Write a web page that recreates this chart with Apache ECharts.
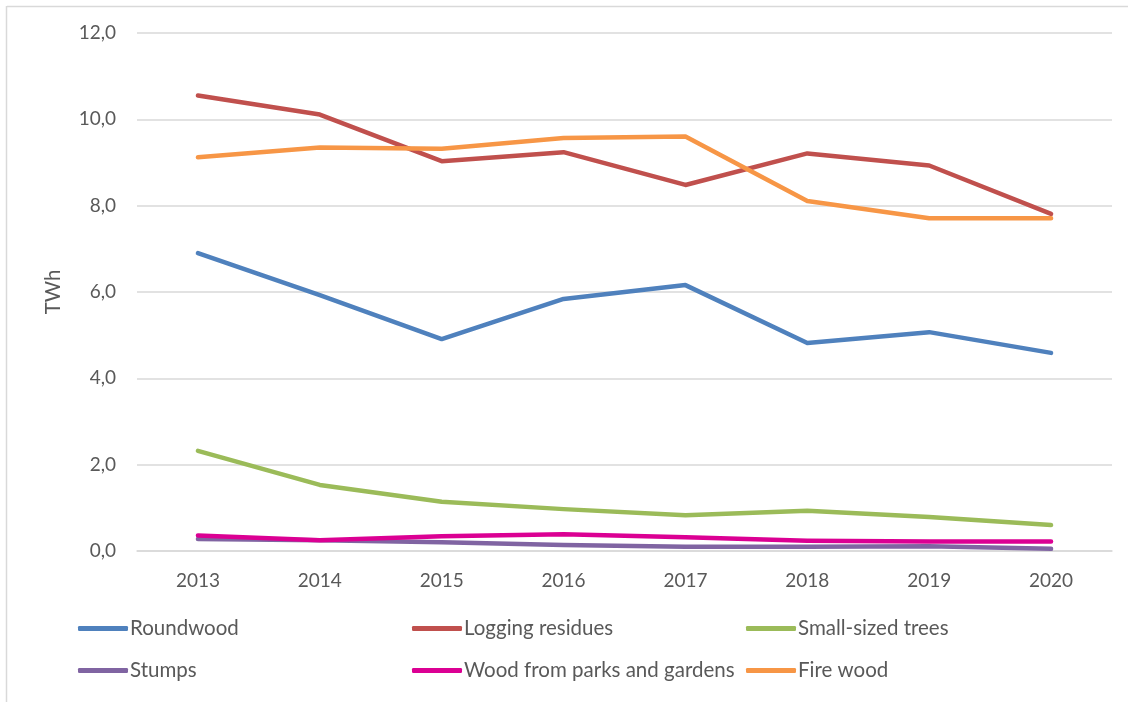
<!DOCTYPE html>
<html>
<head>
<meta charset="utf-8">
<script src="https://cdn.jsdelivr.net/npm/echarts@6/dist/echarts.min.js"></script>
<style>
html,body{margin:0;padding:0;background:#fff;}
#chart{width:1128px;height:702px;}
</style>
</head>
<body>
<div id="chart"></div>
<script>
const years = ['2013','2014','2015','2016','2017','2018','2019','2020'];
const roundwood = [6.90, 5.93, 4.91, 5.84, 6.16, 4.82, 5.07, 4.59];
const loggingResidues = [10.55, 10.11, 9.03, 9.24, 8.48, 9.21, 8.93, 7.81];
const smallSizedTrees = [2.32, 1.53, 1.14, 0.97, 0.83, 0.93, 0.79, 0.60];
const stumps = [0.28, 0.25, 0.20, 0.14, 0.10, 0.10, 0.11, 0.05];
const woodParks = [0.36, 0.25, 0.34, 0.39, 0.32, 0.24, 0.22, 0.22];
const fireWood = [9.12, 9.35, 9.32, 9.57, 9.60, 8.11, 7.71, 7.71];
const seriesNames = ['Roundwood','Logging residues','Small-sized trees','Stumps','Wood from parks and gardens','Fire wood'];
const seriesColors = ['#4F81BD','#C0504D','#9BBB59','#8064A2','#DB0093','#F79646'];
const seriesData = [roundwood, loggingResidues, smallSizedTrees, stumps, woodParks, fireWood];

const font = 'Lato, "Open Sans", sans-serif';
const legendPos = [[78,618],[412,618],[746,618],[78,660],[412,660],[746,660]];

const chart = echarts.init(document.getElementById('chart'));
chart.setOption({
  animation: false,
  backgroundColor: '#fff',
  textStyle: {fontFamily: font},
  grid: {left: 137, right: 16, top: 33, bottom: 151, containLabel: false},
  legend: seriesNames.map((n, i) => ({
    data: [n],
    left: legendPos[i][0],
    top: legendPos[i][1],
    icon: 'roundRect',
    itemWidth: 50,
    itemHeight: 5,
    itemGap: 0,
    padding: 0,
    selectedMode: false,
    textStyle: {color: '#595959', fontSize: 20.5, fontFamily: font, padding: [0,0,0,-3]}
  })),
  xAxis: {
    type: 'category',
    data: years,
    boundaryGap: true,
    axisLine: {lineStyle: {color: '#d9d9d9', width: 1.5}},
    axisTick: {show: false},
    axisLabel: {color: '#595959', fontSize: 19, margin: 20, fontFamily: font}
  },
  yAxis: {
    type: 'value',
    min: 0, max: 12, interval: 2,
    name: 'TWh',
    nameLocation: 'middle',
    nameGap: 73,
    nameRotate: 90,
    nameTextStyle: {color: '#595959', fontSize: 20.5, fontFamily: font},
    axisLine: {show: false},
    axisTick: {show: false},
    splitLine: {lineStyle: {color: '#d9d9d9', width: 1.5}},
    axisLabel: {
      color: '#595959', fontSize: 19, margin: 21, fontFamily: font,
      formatter: v => v.toFixed(1).replace('.', ',')
    }
  },
  series: seriesNames.map((n, i) => ({
    name: n,
    type: 'line',
    data: seriesData[i],
    showSymbol: false,
    symbol: 'none',
    smooth: false,
    color: seriesColors[i],
    lineStyle: {width: 4.5, color: seriesColors[i], cap: 'round', join: 'round'}
  })),
  graphic: [
    {type: 'line', shape: {x1: 7, y1: 6.5, x2: 1128, y2: 6.5}, style: {stroke: '#d9d9d9', lineWidth: 1.5}},
    {type: 'line', shape: {x1: 6.5, y1: 6, x2: 6.5, y2: 702}, style: {stroke: '#d9d9d9', lineWidth: 1.5}}
  ]
});
</script>
</body>
</html>
